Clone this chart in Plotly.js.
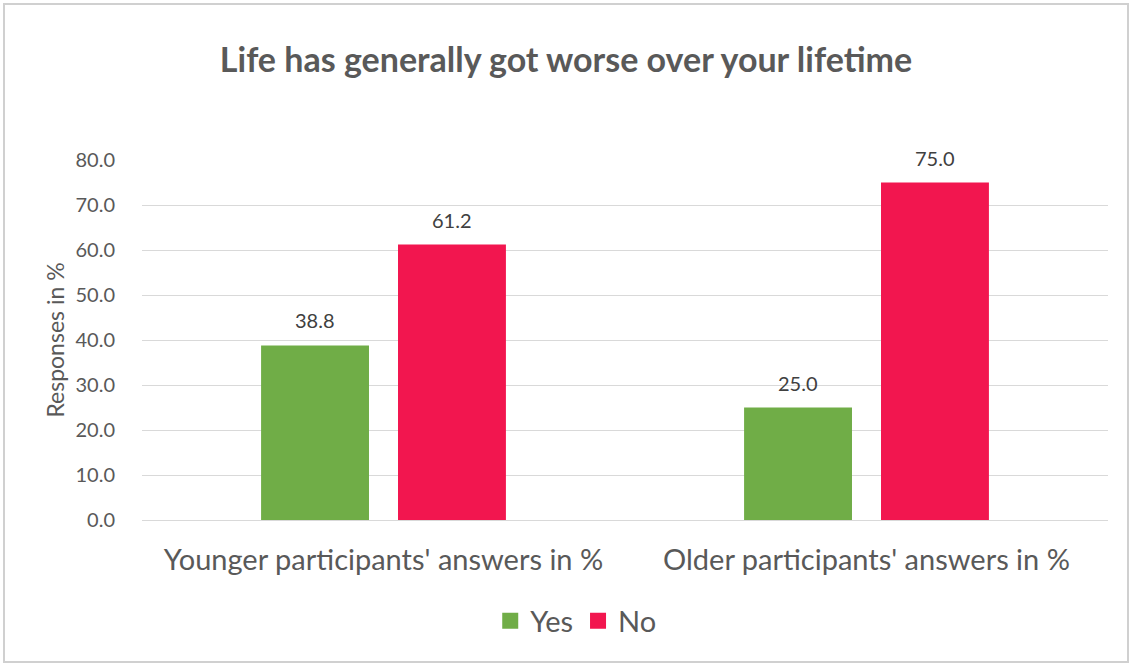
<!DOCTYPE html>
<html>
<head>
<meta charset="utf-8">
<script src="https://cdn.plot.ly/plotly-3.0.1.min.js"></script>
<style>html,body{margin:0;padding:0;background:#fff;}#chart{width:1132px;height:666px;}</style>
</head>
<body>
<div id="chart"></div>
<script>
const categories = ["Younger participants' answers in %", "Older participants' answers in %"];
const yesValues = [38.8, 25.0];
const noValues = [61.2, 75.0];
const seriesNames = ["Yes", "No"];
const seriesColors = ['#70AD47', '#F2164F'];
const yTickValues = [0, 10, 20, 30, 40, 50, 60, 70, 80];
const yTickLabels = ["0.0", "10.0", "20.0", "30.0", "40.0", "50.0", "60.0", "70.0", "80.0"];

const fontFam = "Lato, Open Sans, sans-serif";
const seriesValues = [yesValues, noValues];
const traces = [];
seriesValues.forEach((vals, i) => {
  traces.push({type: 'bar', name: seriesNames[i], x: categories, y: vals,
    marker: {color: seriesColors[i]}, showlegend: false, legendgroup: seriesNames[i]});
});
// legend proxies with larger square symbols
seriesValues.forEach((vals, i) => {
  traces.push({type: 'scatter', mode: 'markers', name: seriesNames[i], x: [null], y: [null],
    marker: {symbol: 'square', size: 16, color: seriesColors[i]}, showlegend: true, legendgroup: seriesNames[i]});
});
const slotShift = 68.5;
const annotations = [];
seriesValues.forEach((vals, i) => {
  vals.forEach((v, j) => {
    annotations.push({x: categories[j], y: v, xref: 'x', yref: 'y', text: v.toFixed(1),
      showarrow: false, yanchor: 'bottom', yshift: 11, xshift: (i === 0 ? -slotShift : slotShift),
      font: {size: 20, color: '#404040', family: fontFam}});
  });
});
const layout = {
  width: 1132, height: 666,
  margin: {l: 142, r: 24, t: 160, b: 146},
  paper_bgcolor: '#fff', plot_bgcolor: '#fff',
  font: {family: fontFam, color: '#595959'},
  title: {text: '<b>Life has generally got worse over your lifetime</b>',
          font: {size: 34, color: '#595959', family: fontFam},
          x: 0.5, xanchor: 'center', y: 0.91, yanchor: 'middle'},
  barmode: 'group', bargap: 0.433, bargroupgap: 0.212,
  xaxis: {type: 'category', showgrid: false, zeroline: false, showline: false,
          ticks: 'outside', ticklen: 14, tickcolor: 'rgba(0,0,0,0)',
          tickfont: {size: 29, color: '#595959', family: fontFam}},
  yaxis: {range: [0, 80], tickvals: yTickValues, ticktext: yTickLabels,
          showgrid: true, gridcolor: '#D9D9D9', gridwidth: 1,
          zeroline: true, zerolinecolor: '#D9D9D9', zerolinewidth: 1,
          ticks: 'outside', ticklen: 22, tickcolor: 'rgba(0,0,0,0)',
          tickfont: {size: 20, color: '#595959', family: fontFam},
          title: {text: 'Responses in %', font: {size: 23, color: '#595959', family: fontFam}, standoff: 4}},
  showlegend: true,
  legend: {orientation: 'h', x: 0.449, xanchor: 'center', y: -0.28, yanchor: 'middle',
           font: {size: 29, color: '#595959', family: fontFam}, itemwidth: 30, tracegroupgap: 0},
  annotations: annotations,
  shapes: [{type: 'rect', xref: 'paper', yref: 'paper',
            x0: -138/966, x1: 1 + 20/966, y0: -142/360, y1: 1 + 156/360,
            line: {color: '#D0D0D0', width: 2}}]
};
Plotly.newPlot('chart', traces, layout, {displayModeBar: false, staticPlot: true});
</script>
</body>
</html>
